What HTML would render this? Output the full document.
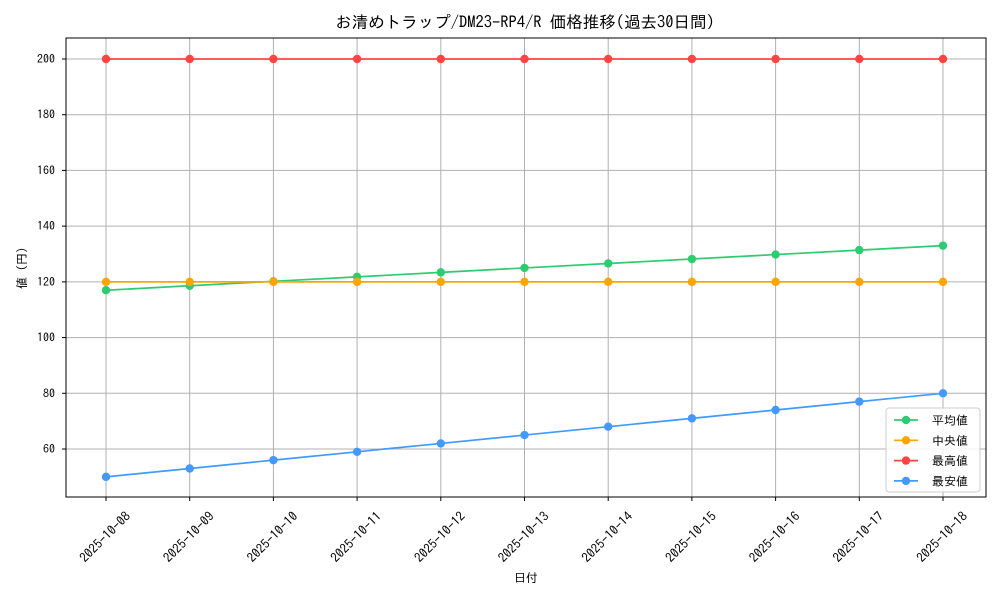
<!DOCTYPE html>
<html><head><meta charset="utf-8"><style>
body{margin:0;background:#fff;}
svg text{font-family:"IPAGothic","Noto Sans CJK JP",monospace;fill:#000;}
</style></head><body>
<svg id="c" width="1000" height="600" xmlns="http://www.w3.org/2000/svg">
<rect width="1000" height="600" fill="#fff"/>
<text x="525" y="28" font-size="16.5" text-anchor="middle">お清めトラップ/DM23-RP4/R 価格推移(過去30日間)</text>
<g id="grid"></g><g id="series"></g>
<rect x="66" y="38" width="920" height="459" fill="none" stroke="#000" stroke-width="1"/>
<g id="axes"></g>
<text x="526" y="582" font-size="12" text-anchor="middle">日付</text>
<text transform="translate(26,268) rotate(-90)" font-size="12" text-anchor="middle">値 (円)</text>
<g id="legend"></g>
</svg>
<script>
const categories=["2025-10-08","2025-10-09","2025-10-10","2025-10-11","2025-10-12","2025-10-13","2025-10-14","2025-10-15","2025-10-16","2025-10-17","2025-10-18"];
const avgValues=[117,118.6,120.2,121.8,123.4,125,126.6,128.2,129.8,131.4,133];
const medianValues=[120,120,120,120,120,120,120,120,120,120,120];
const maxValues=[200,200,200,200,200,200,200,200,200,200,200];
const minValues=[50,53,56,59,62,65,68,71,74,77,80];
const yTicks=[60,80,100,120,140,160,180,200];
const seriesNames=["平均値","中央値","最高値","最安値"];
const NS="http://www.w3.org/2000/svg";
function xs(i){return 106+i*(943-106)/(categories.length-1);}
function ys(v){return 449-(v-60)*(449-59)/140;}
function mk(t,a,p){const e=document.createElementNS(NS,t);for(const k in a)e.setAttribute(k,a[k]);p.appendChild(e);return e;}
const grid=document.getElementById('grid'),axes=document.getElementById('axes');
categories.forEach((c,i)=>{const x=xs(i);
 const g=mk('line',{x1:x,x2:x,y1:38,y2:497,stroke:'#b0b0b0','stroke-width':1},grid);
 
 mk('line',{x1:x,x2:x,y1:497,y2:501,stroke:'#000'},axes);
 const t=mk('text',{transform:`translate(${x-1},${537}) rotate(-45)`,'font-size':13,'text-anchor':'middle','dominant-baseline':'central'},axes);
 t.textContent=c;});
yTicks.forEach(v=>{const y=ys(v);
 const g=mk('line',{x1:66,x2:986,y1:y,y2:y,stroke:'#b0b0b0','stroke-width':1},grid);
 
 mk('line',{x1:62,x2:66,y1:y,y2:y,stroke:'#000'},axes);
 const t=mk('text',{x:55,y:y+4,'font-size':12,'text-anchor':'end'},axes);
 t.textContent=v;});
const data=[avgValues,medianValues,maxValues,minValues];
const colors=["#2ecc71","#ffa500","#ff4444","#4499ff"];
const keys=["average","median","max","min"];
const sg=document.getElementById('series');
data.forEach((arr,s)=>{
 const pl=mk('polyline',{points:arr.map((v,i)=>xs(i)+','+ys(v)).join(' '),fill:'none',stroke:colors[s],'stroke-width':1.7},sg);
 
 arr.forEach((v,i)=>{const c=mk('circle',{cx:xs(i),cy:ys(v),r:4.2,fill:colors[s]},sg);
  });
});
const lg=document.getElementById('legend');
const box=mk('rect',{x:886,y:408,width:94,height:84,rx:3,fill:'#fff','fill-opacity':0.85,stroke:'#ccc'},lg);

seriesNames.forEach((n,s)=>{const y=420+s*20.3;
 const g=mk('g',{},lg);
 mk('line',{x1:894,x2:918,y1:y,y2:y,stroke:colors[s],'stroke-width':1.7},g);
 mk('circle',{cx:906,cy:y,r:4.2,fill:colors[s]},g);
 const t=mk('text',{x:932,y:y+4.5,'font-size':12},g);t.textContent=n;});
</script>
</body></html>
